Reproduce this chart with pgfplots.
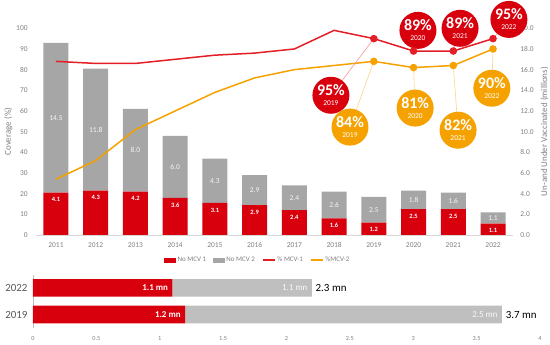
\documentclass[border=0pt]{standalone}
\usepackage{pgfplots}
\pgfplotsset{compat=1.18}
\usepackage{pgfplotstable}
\usepackage{fontspec}
\setmainfont{Carlito}
\definecolor{cRed}{HTML}{D9000D}
\definecolor{cLine}{HTML}{E41E26}
\definecolor{cGrey}{HTML}{A6A6A6}
\definecolor{cLGrey}{HTML}{BFBFBF}
\definecolor{cOrange}{HTML}{F5A200}
\definecolor{cTxt}{HTML}{808080}
\definecolor{cDark}{HTML}{595959}
\newcommand\fs[1]{\fontsize{#1}{#1}\selectfont}

\pgfplotstableread{
idx red grey
0 4.1 14.5
1 4.3 11.8
2 4.2 8.0
3 3.6 6.0
4 3.1 4.3
5 2.9 2.9
6 2.4 2.4
7 1.6 2.6
8 1.2 2.5
9 2.5 1.8
10 2.5 1.6
11 1.1 1.1
}\bars

\pgfplotstableread{
idx mcvone mcvtwo
0 84 27
1 83 36
2 83 51
3 85 60
4 87 69
5 88 76
6 90 80
7 99 82
8 95 84
9 89 81
10 89 82
11 95 90
}\cov

\pgfplotsset{
  topaxis/.style={at={(36.1bp,110bp)}, anchor=south west, scale only axis,
    width=476.8bp, height=206.7bp, xmin=-0.5, xmax=11.5},
  botaxis/.style={at={(33bp,17.25bp)}, anchor=south west, scale only axis, width=507bp, height=53bp,
    xmin=0, xmax=4, ymin=-0.5, ymax=1.5},
}

\newcommand\bub[5]{%
  \node[circle, fill=#1, minimum size=37bp, inner sep=0pt, text=white, align=center] at (axis cs:#2,#3) {{\fs{16}\bfseries #4\%}\\[-2bp]{\fs{7.5}#5}};}

\begin{document}
\begin{tikzpicture}
\useasboundingbox (0,0) rectangle (550bp,345bp);
% bars (right axis)
\begin{axis}[topaxis, ymin=0, ymax=20,
  ybar stacked, bar width=25bp,
  axis y line*=right, axis x line=none,
  y axis line style={draw=none},
  ytick={0,2,...,20}, major tick length=0pt,
  /pgf/number format/assume math mode=true,
  yticklabel style={/pgf/number format/.cd, fixed, fixed zerofill, precision=1, /tikz/.cd, font=\fs{7.5}, text=cTxt, xshift=4bp},
  ylabel={Un-and Under Vaccinated (millions)},
  ylabel style={font=\fs{9}, text=cTxt},
]
\addplot[fill=cRed, draw=none] table[x=idx,y=red]{\bars};
\addplot[fill=cGrey, draw=none] table[x=idx,y=grey]{\bars};
\end{axis}
% bar labels
\begin{axis}[topaxis, ymin=0, ymax=20, hide axis, clip=false]
\addplot[only marks, mark=*, mark size=0pt, mark options={draw=none,fill=none}, nodes near coords, point meta=explicit symbolic, nodes near coords align=center, every node near coord/.append style={font=\bfseries\fs{6.5}, text=white}] table[x=idx, y expr=\thisrow{red}-0.7, meta=red]{\bars};
\addplot[only marks, mark=*, mark size=0pt, mark options={draw=none,fill=none}, nodes near coords, point meta=explicit symbolic, nodes near coords align=center, every node near coord/.append style={font=\fs{7.5}, text=white!92!gray}] table[x=idx, y expr=\thisrow{red}+0.5*\thisrow{grey}, meta=grey]{\bars};
\end{axis}
% lines (left axis)
\begin{axis}[topaxis, ymin=0, ymax=100, clip=false,
  axis y line*=left, axis x line*=bottom,
  y axis line style={draw=none}, x axis line style={draw=cLGrey!60, line width=0.6bp},
  xtick={0,...,11}, xticklabels={2011,2012,2013,2014,2015,2016,2017,2018,2019,2020,2021,2022},
  ytick={0,10,...,100}, major tick length=0pt,
  /pgf/number format/assume math mode=true,
  tick label style={font=\fs{7.5}, text=cTxt},
  xticklabel style={yshift=-4bp}, yticklabel style={xshift=-5bp},
  ylabel={Coverage (\%)}, ylabel style={font=\fs{9}, text=cTxt, yshift=-3bp},
  legend style={at={(0.465,-0.121)}, anchor=center, draw=none, fill=none, font=\fs{7}, text=cTxt, legend columns=4, /tikz/every even column/.append style={column sep=5bp}, inner sep=0pt},
  legend cell align=left,
]
\addlegendimage{legend image code/.code={\fill[cRed] (0bp,-2bp) rectangle (11bp,2bp);}}
\addlegendentry{No MCV 1}
\addlegendimage{legend image code/.code={\fill[cGrey] (0bp,-2bp) rectangle (11bp,2bp);}}
\addlegendentry{No MCV 2}
\addplot[cLine, line width=1.5bp, mark=*, mark size=3bp, mark indices={9,10,11,12}, mark options={fill=cLine, draw=cLine},
  legend image code/.code={\draw[cLine, line width=1.5bp] (0bp,0bp) -- (12bp,0bp);}] table[x=idx, y=mcvone]{\cov};
\addlegendentry{\% MCV-1}
\addplot[cOrange, line width=1.5bp, mark=*, mark size=3bp, mark indices={9,10,11,12}, mark options={fill=cOrange, draw=cOrange},
  legend image code/.code={\draw[cOrange, line width=1.5bp] (0bp,0bp) -- (12bp,0bp);}] table[x=idx, y=mcvtwo]{\cov};
\addlegendentry{\%MCV-2}
% connectors
\draw[cLine!45, line width=0.6bp] (axis cs:8,95) -- (axis cs:6.92,67.6);
\draw[cLine!45, line width=0.6bp] (axis cs:9,89) -- (axis cs:9.11,99);
\draw[cLine!45, line width=0.6bp] (axis cs:10,89) -- (axis cs:10.17,100);
\draw[cLine!45, line width=0.6bp] (axis cs:11,95) -- (axis cs:11.40,104.3);
\draw[cOrange!45, line width=0.6bp] (axis cs:8,84) -- (axis cs:7.40,52.2);
\draw[cOrange!45, line width=0.6bp] (axis cs:9,81) -- (axis cs:9.04,61.4);
\draw[cOrange!45, line width=0.6bp] (axis cs:10,82) -- (axis cs:10.12,50.7);
\draw[cOrange!45, line width=0.6bp] (axis cs:11,90) -- (axis cs:10.97,71);
% bubbles
\bub{cRed}{6.92}{67.6}{95}{2019}
\bub{cRed}{9.11}{99}{89}{2020}
\bub{cRed}{10.17}{100}{89}{2021}
\bub{cRed}{11.40}{104.3}{95}{2022}
\bub{cOrange}{7.40}{52.2}{84}{2019}
\bub{cOrange}{9.04}{61.4}{81}{2020}
\bub{cOrange}{10.12}{50.7}{82}{2021}
\bub{cOrange}{10.97}{71}{90}{2022}
\end{axis}
% bottom chart
\begin{axis}[botaxis, clip=false,
  xbar stacked, bar width=17.5bp,
  axis y line*=left, axis x line*=bottom, x axis line style={draw=none},
  y axis line style={draw=cLGrey, line width=0.6bp},
  ytick={0,1}, yticklabels={2019,2022},
  xtick={0,0.5,...,4},
  major tick length=0pt,
  /pgf/number format/assume math mode=true,
  xticklabel style={font=\fs{6.3}, text=cTxt, yshift=-5bp},
  yticklabel style={font=\fs{11}, text=cDark, xshift=-2bp},
]
\addplot[fill=cRed, draw=none] coordinates {(1.2,0) (1.1,1)};
\addplot[fill=cLGrey, draw=none] coordinates {(2.5,0) (1.1,1)};
\end{axis}
% bottom labels
\begin{axis}[botaxis, hide axis, clip=false]
\addplot[only marks, mark=*, mark size=0pt, mark options={draw=none,fill=none}, nodes near coords={\makebox[0pt][r]{\pgfplotspointmeta}}, point meta=explicit symbolic, nodes near coords align=center, every node near coord/.append style={font=\bfseries\fs{9}, text=white}] coordinates {(1.165,0) [1.2 mn] (1.065,1) [1.1 mn]};
\addplot[only marks, mark=*, mark size=0pt, mark options={draw=none,fill=none}, nodes near coords={\makebox[0pt][r]{\pgfplotspointmeta}}, point meta=explicit symbolic, nodes near coords align=center, every node near coord/.append style={font=\fs{9}, text=white!95!gray}] coordinates {(3.665,0) [2.5 mn] (2.165,1) [1.1 mn]};
\addplot[only marks, mark=*, mark size=0pt, mark options={draw=none,fill=none}, nodes near coords={\makebox[0pt][l]{\pgfplotspointmeta}}, point meta=explicit symbolic, nodes near coords align=center, every node near coord/.append style={font=\fs{11}, text=black}] coordinates {(3.73,0) [3.7 mn] (2.23,1) [2.3 mn]};
\end{axis}
\end{tikzpicture}
\end{document}
